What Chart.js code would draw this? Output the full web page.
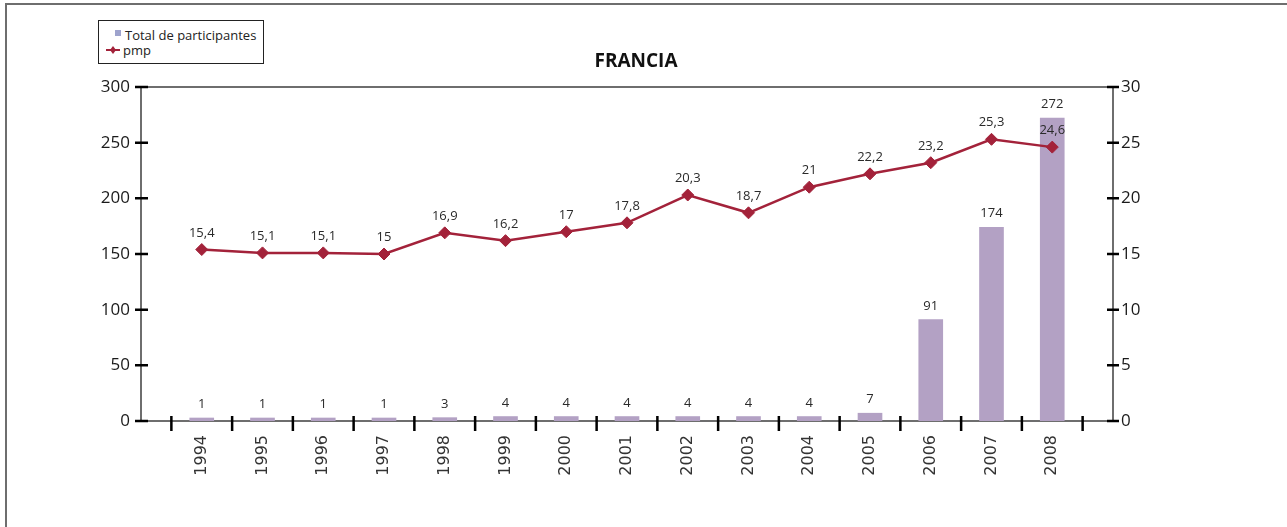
<!DOCTYPE html>
<html>
<head>
<meta charset="utf-8">
<script src="https://cdn.jsdelivr.net/npm/chart.js@4.4.1/dist/chart.umd.min.js"></script>
<style>
html,body{margin:0;padding:0;background:#fff;}
#wrap{position:relative;width:1287px;height:527px;overflow:hidden;background:#fff;}
#frame{position:absolute;left:5px;top:3px;width:1300px;height:540px;border-top:2px solid #6e6e6e;border-left:2px solid #6e6e6e;}
#c{position:absolute;left:0;top:0;}
#legend{position:absolute;left:98px;top:20px;width:166px;height:44px;border:1px solid #222;box-sizing:border-box;font:13px 'Open Sans',sans-serif;color:#222;background:#fff;}
#sq{position:absolute;left:16px;top:9px;width:6px;height:6px;background:#9ea3cd;}
#t1{position:absolute;left:26px;top:6px;line-height:16px;white-space:nowrap;}
#t2{position:absolute;left:24px;top:21px;line-height:16px;white-space:nowrap;}
#sym{position:absolute;left:7px;top:24px;}
#title{position:absolute;left:536px;top:49px;width:200px;text-align:center;font:bold 19px 'Open Sans',sans-serif;line-height:22px;color:#111;}
</style>
</head>
<body>
<div id="wrap">
  <div id="frame"></div>
  <canvas id="c" width="1287" height="527"></canvas>
  <div id="legend">
    <div id="sq"></div><div id="t1">Total de participantes</div>
    <svg id="sym" width="14" height="10" viewBox="0 0 14 10"><line x1="0" y1="5" x2="14" y2="5" stroke="#a3223a" stroke-width="2"/><polygon points="7,1 10,5 7,9 4,5" fill="#a3223a"/></svg>
    <div id="t2">pmp</div>
  </div>
  <div id="title">FRANCIA</div>
</div>
<script>
const years = ['1994','1995','1996','1997','1998','1999','2000','2001','2002','2003','2004','2005','2006','2007','2008'];
const participantes = [1,1,1,1,3,4,4,4,4,4,4,7,91,174,272];
const pmp = [15.4,15.1,15.1,15,16.9,16.2,17,17.8,20.3,18.7,21,22.2,23.2,25.3,24.6];
const leftAxis = {min:0, max:300, step:50};
const rightAxis = {min:0, max:30, step:5};

const labels = [''].concat(years, ['']);
const barData = [null].concat(participantes, [null]);
const lineData = [null].concat(pmp, [null]);

const framePlugin = {
  id:'frame',
  beforeDatasetsDraw(chart){
    const {ctx, chartArea:a} = chart;
    ctx.save();
    ctx.strokeStyle = '#6e6e6e';
    ctx.lineWidth = 2;
    ctx.strokeRect(a.left, a.top, a.right - a.left, a.bottom - a.top);
    ctx.restore();
  },
  afterDraw(chart){
    const {ctx, chartArea:a, scales} = chart;
    ctx.save();
    ctx.strokeStyle = '#000';
    ctx.lineWidth = 2.5;
    ctx.beginPath();
    scales.y.ticks.forEach(t => {
      const py = scales.y.getPixelForValue(t.value);
      ctx.moveTo(a.left - 6, py); ctx.lineTo(a.left + 7, py);
    });
    scales.y1.ticks.forEach(t => {
      const py = scales.y1.getPixelForValue(t.value);
      ctx.moveTo(a.right - 6, py); ctx.lineTo(a.right + 6, py);
    });
    const xs = scales.x;
    for (let i = 1; i < xs.ticks.length; i++) {
      const px = (xs.getPixelForTick(i - 1) + xs.getPixelForTick(i)) / 2;
      ctx.moveTo(px, a.bottom - 5); ctx.lineTo(px, a.bottom + 10);
    }
    ctx.stroke();
    ctx.restore();
  }
};

const labelPlugin = {
  id:'vlabels',
  afterDatasetsDraw(chart){
    const ctx = chart.ctx;
    ctx.save();
    ctx.font = '13px "Open Sans"';
    ctx.fillStyle = '#2a2a2a';
    ctx.textAlign = 'center';
    ctx.textBaseline = 'alphabetic';
    chart.data.datasets.forEach((ds, di) => {
      const meta = chart.getDatasetMeta(di);
      meta.data.forEach((el, i) => {
        const v = ds.data[i];
        if (v == null) return;
        const txt = String(v).replace('.', ',');
        const off = ds.type === 'line' ? 13 : 10;
        ctx.fillText(txt, el.x, el.y - off);
      });
    });
    ctx.restore();
  }
};

new Chart(document.getElementById('c'), {
  data: {
    labels: labels,
    datasets: [
      {
        type:'line', label:'pmp', data: lineData, yAxisID:'y1', order:0,
        borderColor:'#a3223a', backgroundColor:'#a3223a', borderWidth:2.5,
        pointStyle:'rectRot', pointRadius:6, pointBorderWidth:1,
        pointBackgroundColor:'#a3223a', pointBorderColor:'#a3223a', tension:0, spanGaps:false
      },
      {
        type:'bar', label:'Total de participantes', data: barData, yAxisID:'y', order:1,
        backgroundColor:'#b3a1c4', barThickness:24, minBarLength:3
      }
    ]
  },
  options: {
    responsive:false,
    animation:false,
    layout:{padding:{top:87,left:0,right:0,bottom:0}},
    plugins:{legend:{display:false}, title:{display:false}, tooltip:{enabled:false}},
    scales:{
      x:{
        type:'category', offset:false,
        grid:{display:false, drawTicks:false}, border:{display:false},
        ticks:{autoSkip:false, maxRotation:90, minRotation:90, padding:14,
          font:{family:'DejaVu Sans', size:16}, color:'#333'},
        afterFit(s){ s.height = 106; }
      },
      y:{
        position:'left', min:leftAxis.min, max:leftAxis.max,
        grid:{display:false, drawTicks:false}, border:{display:false},
        ticks:{stepSize:leftAxis.step, padding:11, font:{family:'Open Sans', size:17}, color:'#1a1a1a'},
        afterFit(s){ s.width = 141; }
      },
      y1:{
        position:'right', min:rightAxis.min, max:rightAxis.max,
        grid:{display:false, drawTicks:false}, border:{display:false},
        ticks:{stepSize:rightAxis.step, padding:8, font:{family:'Open Sans', size:17}, color:'#1a1a1a'},
        afterFit(s){ s.width = 174; }
      }
    }
  },
  plugins:[framePlugin, labelPlugin]
});
</script>
</body>
</html>
